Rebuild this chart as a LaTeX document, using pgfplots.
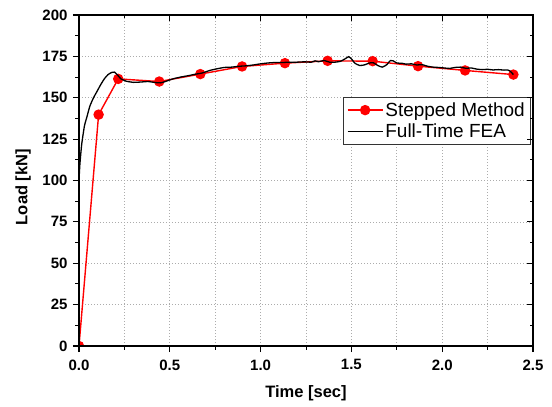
\documentclass[border=0pt]{standalone}
\usepackage{pgfplots}
\pgfplotsset{compat=1.18}
\usepackage{fontspec}
\setmainfont{Liberation Sans}
\begin{document}
\begin{tikzpicture}
\path[use as bounding box] (-79pt,-61pt) rectangle (473pt,346pt);
\pgfplotsset{
  common/.style={
    at={(0,0)}, anchor=south west, scale only axis,
    width=454pt, height=331pt,
    xmin=0, xmax=2.5, ymin=0, ymax=200,
    xtick={0,0.5,...,2.5}, ytick={0,25,...,200},
    minor x tick num=1, minor y tick num=1,
    major tick length=6pt, minor tick length=3.5pt,
    axis line style={line width=1.3pt},
    every tick/.style={line width=1.1pt, black},
    every minor tick/.style={line width=0.9pt, black},
  }
}
\begin{axis}[common,
  xtick pos=bottom, ytick pos=left, tick align=outside,
  xmajorgrids, xminorgrids, ymajorgrids,
  major grid style={dash pattern=on 1pt off 2pt, gray!65, line width=0.7pt},
  minor grid style={dash pattern=on 1pt off 2pt, gray!65, line width=0.7pt},
  /pgf/number format/assume math mode=true,
  tick label style={font=\bfseries\fontsize{15}{15}\selectfont},
  xticklabel style={yshift=-4pt, /pgf/number format/.cd, fixed, fixed zerofill, precision=1},
  yticklabel style={xshift=-2pt},
  xlabel={Time [sec]}, ylabel={Load [kN]},
  label style={font=\bfseries\fontsize{16.5}{18}\selectfont},
  xlabel style={at={(axis description cs:0.5,-0.142)}, anchor=center},
  ylabel style={at={(axis description cs:-0.1233,0.48)}, anchor=center},
  clip marker paths=true,
  legend style={at={(rel axis cs:0.996,0.752)}, anchor=north east,
    font=\fontsize{19}{22}\selectfont, draw=black!80, line width=0.8pt,
    inner xsep=4pt, inner ysep=3pt, row sep=2pt, cells={anchor=west}},
  legend cell align=left,
  legend image code/.code={\draw[line width=1.4pt, mark repeat=2,mark phase=2] plot coordinates {(0pt,0pt) (17.5pt,0pt) (35pt,0pt)};},
]
\addplot[red, line width=1.4pt, mark=*, mark size=4.5pt, mark options={solid, fill=red, draw=red}] coordinates {
(0,0) (0.108,139.8) (0.216,161.4) (0.442,159.8) (0.668,164.3) (0.898,168.9)
(1.134,170.9) (1.369,172.3) (1.617,172.1) (1.867,169.1) (2.126,166.5) (2.392,164.0)
};
\addlegendentry{Stepped Method}
\addplot[black, line width=1.3pt, smooth, tension=0.3] coordinates {
(0.000,100) (0.005,110) (0.015,122) (0.030,133) (0.045,139) (0.060,145)
(0.080,150) (0.100,154) (0.120,158) (0.140,161.5) (0.160,164) (0.180,165.3)
(0.195,165.5) (0.210,164) (0.230,161.5) (0.260,160) (0.300,159.3) (0.340,159.5)
(0.380,159.8) (0.420,159.2) (0.450,159.0) (0.480,160) (0.520,161.5) (0.560,162.5)
(0.600,163.3) (0.640,164.2) (0.680,165) (0.720,166.5) (0.760,167.5) (0.800,168.3)
(0.840,168.5) (0.880,169) (0.920,169.3) (0.960,169.8) (1.000,170.5) (1.040,171)
(1.080,171.3) (1.120,171.3) (1.160,171.5) (1.200,171.5) (1.240,171.7) (1.280,171.5)
(1.300,172.3) (1.320,171.8) (1.350,172.5) (1.380,171.5) (1.410,171.5) (1.440,172)
(1.465,173.5) (1.485,174.8) (1.500,173.5) (1.520,170.8) (1.545,169.5) (1.570,169.8)
(1.600,171) (1.620,171.2) (1.645,169.5) (1.670,168.5) (1.695,170) (1.715,172.5)
(1.730,172.3) (1.750,171) (1.780,170.8) (1.800,170.3) (1.830,170.5) (1.860,169.8)
(1.890,170) (1.920,169) (1.950,168.5) (1.980,168.3) (2.010,168) (2.040,167.7)
(2.070,168.3) (2.100,168.5) (2.130,167.8) (2.160,168) (2.190,167.3) (2.220,167)
(2.250,167.2) (2.280,166.8) (2.310,167) (2.340,166.7) (2.360,166.8) (2.375,166)
(2.392,164)
};
\addlegendentry{Full-Time FEA}
\end{axis}
\begin{axis}[common,
  xtick pos=top, ytick pos=right, tick align=inside,
  xticklabels={}, yticklabels={},
]
\end{axis}
\end{tikzpicture}
\end{document}
